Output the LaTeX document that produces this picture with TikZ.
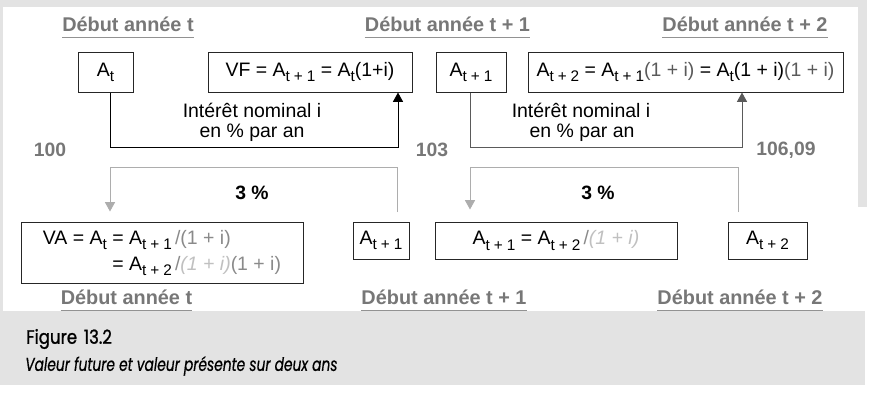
\documentclass[tikz,border=0pt]{standalone}
\usepackage{fontspec}
\setmainfont{Liberation Sans}
\newfontfamily\capfont[FakeStretch=0.74,FakeBold=0.6]{Poppins}
\newfontfamily\capfontb[FakeStretch=0.86,FakeBold=1.2]{Poppins}
\usetikzlibrary{arrows.meta}
\definecolor{bggray}{HTML}{E3E3E3}
\definecolor{lblgray}{HTML}{777777}
\definecolor{midgray}{HTML}{8A8A8A}
\definecolor{ltgray}{HTML}{C0C0C0}
\definecolor{lngray}{HTML}{ADADAD}
\definecolor{darkln}{HTML}{5A5A5A}
\newcommand\subx[1]{\raisebox{-0.5ex}{\fontsize{11.5pt}{11.5pt}\selectfont #1}}
\newcommand\pl{\hspace{3pt}+\hspace{3pt}}
\begin{document}
\begin{tikzpicture}[x=0.75pt,y=-0.75pt,
  mainfont/.style={font=\fontsize{14.6pt}{19.5pt}\selectfont},
  box/.style={draw=black!85, line width=0.75pt, inner sep=0pt, mainfont, anchor=center},
  yearlbl/.style={anchor=base, inner sep=0pt, text=lblgray, font=\fontsize{14.9pt}{16pt}\selectfont\bfseries},
  ulline/.style={draw=lblgray!80, line width=0.75pt},
  numlbl/.style={inner sep=0pt, text=lblgray, font=\fontsize{14.5pt}{16pt}\selectfont\bfseries},
  txtlbl/.style={inner sep=0pt, mainfont},
  pctlbl/.style={inner sep=0pt, font=\fontsize{14.5pt}{16pt}\selectfont\bfseries},
  conn/.style={line width=0.75pt},
  tip/.style={-{Triangle[width=7.5pt,length=7pt]}},
]
% background
\fill[white] (0,0) rectangle (875,400);
\fill[bggray] (0,0) rectangle (867,207);
\fill[bggray] (0,0) rectangle (3,311);
\fill[bggray] (0,311) rectangle (865,385);
\fill[white] (3,7) rectangle (858,311);

% year labels top
\node[yearlbl] (y1) at (128,31.5) {Début année t};
\node[yearlbl] (y2) at (447.5,31.5) {Début année t + 1};
\node[yearlbl] (y3) at (745,31.5) {Début année t + 2};
% year labels bottom
\node[yearlbl] (z1) at (126.5,304.5) {Début année t};
\node[yearlbl] (z2) at (444,304.5) {Début année t + 1};
\node[yearlbl] (z3) at (740,304.5) {Début année t + 2};
\foreach \n in {y1,y2,y3,z1,z2,z3}
  \draw[ulline] ([yshift=-4.2pt]\n.base west) -- ([yshift=-4.2pt]\n.base east);

% top boxes
\node[box, minimum width=55*0.75pt, minimum height=40*0.75pt] (At) at (105.5,72) {A\subx{t}};
\node[box, minimum width=204*0.75pt, minimum height=40*0.75pt] (VF) at (310,72) {VF = A\subx{t\pl 1} = A\subx{t}(1+i)};
\node[box, minimum width=70*0.75pt, minimum height=40*0.75pt] (At1) at (471,72) {A\subx{t\pl 1}};
\node[box, minimum width=315*0.75pt, minimum height=40*0.75pt] (At2) at (685.5,72)
  {A\subx{t\pl 2} = A\subx{t\pl 1}{\color{darkln}(1 + i)} = A\subx{t}(1 + i){\color{darkln}(1 + i)}};

% top connectors
\coordinate (c1) at (398,147);
\coordinate (k1) at (110,167);
\draw[conn, tip] (At.south -| k1) |- (c1) -- (c1 |- VF.south);
\coordinate (c2) at (742,147);
\coordinate (k2) at (470,167);
\draw[conn, darkln, tip] (At1.south -| k2) |- (c2) -- (c2 |- At2.south);

\node[txtlbl] (i1) at (252,110) {Intérêt nominal i};
\node[txtlbl] (p1) at (252,133) {en \% par an};
\node[txtlbl] (i2) at (581,110) {Intérêt nominal i};
\node[txtlbl] (p2) at (582,133) {en \% par an};

\node[numlbl] (n1) at (50,150) {100};
\node[numlbl] (n2) at (432,150) {103};
\node[numlbl] (n3) at (786,150) {106,09};

% bottom boxes
\node[box, minimum width=282*0.75pt, minimum height=61*0.75pt] (VA) at (162,252.5)
  {\begin{tabular}{@{}r@{}l@{}}
   VA = A\subx{t}\ \ & = A\subx{t\pl 1}\,{\color{midgray}/(1 + i)}\\
   & = A\subx{t\pl 2}\,{\color{midgray}/}{\color{ltgray}\itshape(1 + i)}{\color{midgray}(1 + i)}
   \end{tabular}};
\node[box, minimum width=56*0.75pt, minimum height=37*0.75pt] (B1) at (381,240.5) {A\subx{t\pl 1}};
\node[box, minimum width=242*0.75pt, minimum height=37*0.75pt] (B2) at (556,240.5)
  {A\subx{t\pl 1} = A\subx{t\pl 2}\,{\color{midgray}/}{\color{ltgray}\itshape(1 + i)}};
\node[box, minimum width=79*0.75pt, minimum height=37*0.75pt] (B3) at (767.5,240.5) {A\subx{t\pl 2}};

% bottom connectors
\coordinate (s1) at (397,212);
\draw[conn, lngray, tip, shorten >=7.5pt] (s1) |- (k1) -- (k1 |- VA.north);
\coordinate (s2) at (738,212);
\draw[conn, lngray, tip, shorten >=9pt] (s2) |- (k2) -- (k2 |- B2.north);

\node[pctlbl] (q1) at (252,193) {3 \%};
\node[pctlbl] (q2) at (598,193) {3 \%};

% caption
\node[anchor=west, inner sep=0pt, font=\capfontb\fontsize{14.5pt}{15pt}\selectfont] (fig) at (26,339) {Figure\hspace{5pt}13.2};
\node[anchor=west, inner sep=0pt, font=\capfont\itshape\fontsize{14pt}{15pt}\selectfont] (cap) at (25,366) {Valeur future et valeur présente sur deux ans};
\end{tikzpicture}
\end{document}
